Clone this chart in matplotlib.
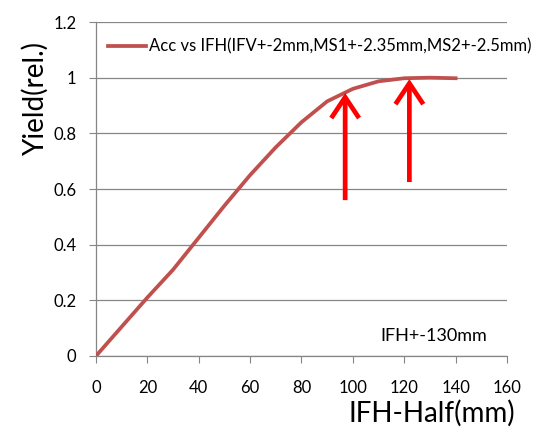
import matplotlib
matplotlib.use("Agg")
import matplotlib.pyplot as plt

# Yield vs. half-width of the IFH aperture
ifh_half = [0, 10, 20, 30, 40, 50, 60, 70, 80, 90, 100, 110, 120, 130, 140]
yield_rel = [0.0, 0.105, 0.21, 0.31, 0.425, 0.54, 0.65, 0.75, 0.84, 0.915, 0.96, 0.987, 0.998, 1.0, 0.998]

x_ticks = [0, 20, 40, 60, 80, 100, 120, 140, 160]
y_ticks = [0, 0.2, 0.4, 0.6, 0.8, 1.0, 1.2]
y_tick_labels = ["0", "0.2", "0.4", "0.6", "0.8", "1", "1.2"]

# arrows marking two apertures of interest: (x, tail y, tip y)
arrow_x = [97, 122]
arrow_tail = [0.56, 0.625]
arrow_tip = [0.945, 0.995]

plt.rcParams["font.family"] = ["Lato", "DejaVu Sans"]

fig = plt.figure(figsize=(5.5, 4.32), dpi=100)
ax = fig.add_axes([0.1745, 0.176, 0.7473, 0.773])

ax.plot(ifh_half, yield_rel, color="#C0504D", lw=2.7,
        label="Acc vs IFH(IFV+-2mm,MS1+-2.35mm,MS2+-2.5mm)", zorder=3)

ax.set_xlim(0, 160)
ax.set_ylim(0, 1.2)
ax.set_xticks(x_ticks)
ax.set_yticks(y_ticks)
ax.set_yticklabels(y_tick_labels)
ax.tick_params(axis="x", labelsize=12, length=5, color="#868686", pad=12)
ax.tick_params(axis="y", labelsize=12, length=5, color="#868686", pad=9)

ax.grid(axis="y", color="#868686", lw=0.9)
ax.set_axisbelow(True)
for s in ("top", "right"):
    ax.spines[s].set_visible(False)
for s in ("left", "bottom"):
    ax.spines[s].set_color("#868686")
    ax.spines[s].set_linewidth(0.9)

for x, y0, y1 in zip(arrow_x, arrow_tail, arrow_tip):
    ax.annotate("", xy=(x, y1), xytext=(x, y0),
                arrowprops=dict(arrowstyle="->,head_length=0.75,head_width=0.5",
                                mutation_scale=20, color="#FF0000", lw=3.4,
                                shrinkA=0, shrinkB=0, capstyle="butt",
                                joinstyle="miter"), zorder=4)

ax.text(131.5, 0.07, "IFH+-130mm", fontsize=13, ha="center", va="center")

leg = ax.legend(loc="upper left", bbox_to_anchor=(0.0, 0.985), frameon=False,
                fontsize=12, handlelength=2.3, handletextpad=0.2, borderaxespad=0.3)

fig.text(0.064, 0.77, "Yield(rel.)", rotation=90, fontsize=20, ha="center", va="center")
fig.text(0.785, 0.044, "IFH-Half(mm)", fontsize=20, ha="center", va="center")

fig.savefig("out.png", dpi=100)
